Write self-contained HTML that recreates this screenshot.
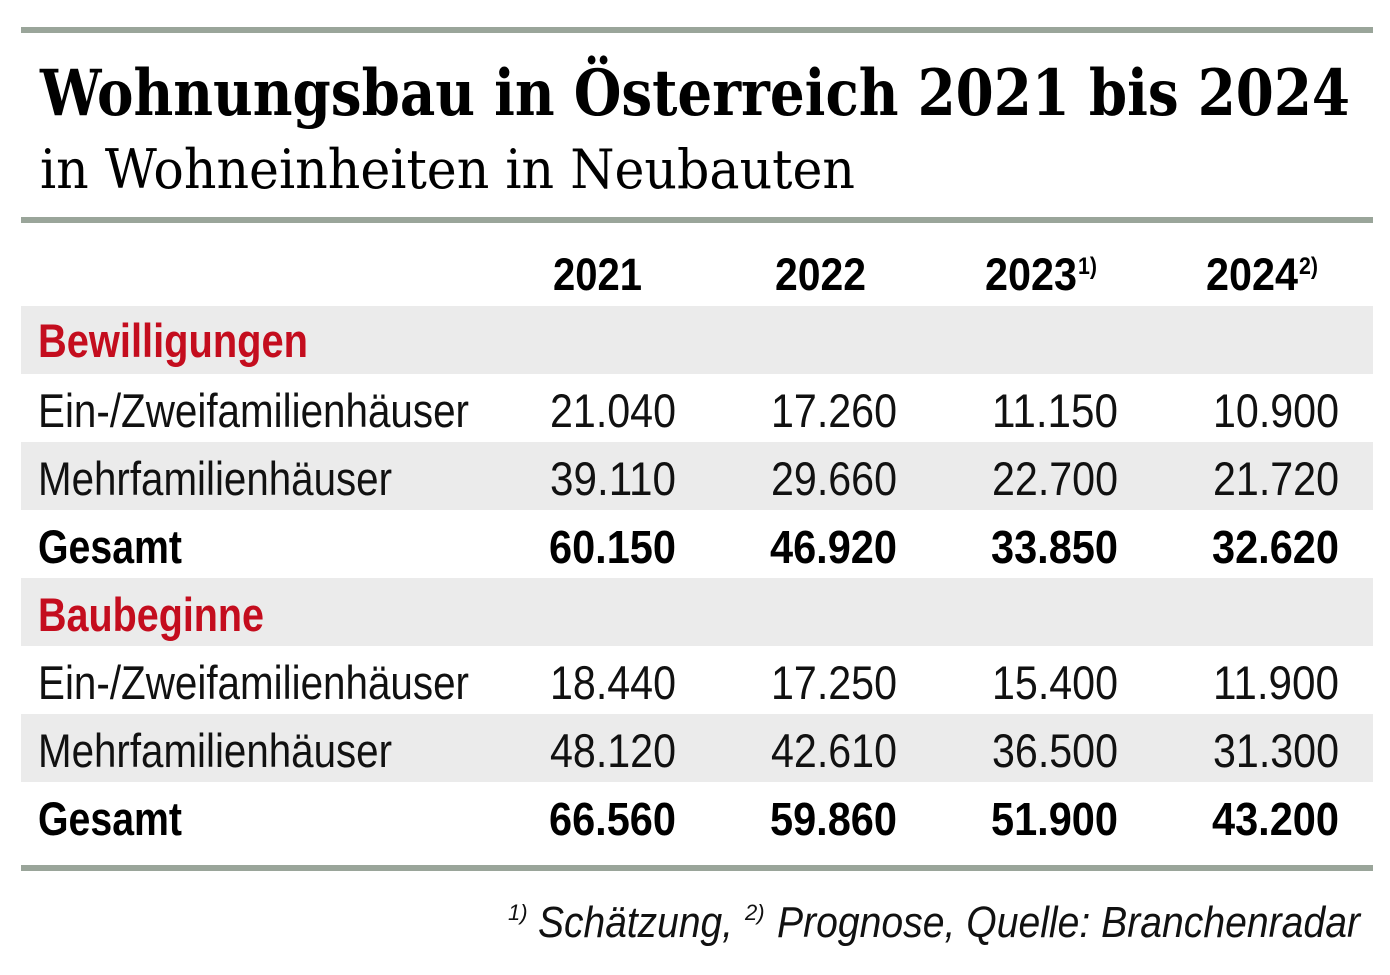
<!DOCTYPE html>
<html><head><meta charset="utf-8"><style>
html,body{margin:0;padding:0;background:#fff;}
svg{display:block}
.c{font-family:"Liberation Sans",sans-serif;}
</style></head><body>
<svg width="1390" height="975" xmlns="http://www.w3.org/2000/svg">
<rect x="21" y="27" width="1352" height="6" fill="#9aa59a"/>
<rect x="21" y="217" width="1352" height="6" fill="#9aa59a"/>
<rect x="21" y="865" width="1352" height="6" fill="#9aa59a"/>
<rect x="21" y="306" width="1352" height="68" fill="#ebebeb"/>
<rect x="21" y="442" width="1352" height="68" fill="#ebebeb"/>
<rect x="21" y="578" width="1352" height="68" fill="#ebebeb"/>
<rect x="21" y="714" width="1352" height="68" fill="#ebebeb"/>
<text x="40" y="115" font-family="DejaVu Serif,serif" font-weight="bold" font-size="64" textLength="1310" lengthAdjust="spacingAndGlyphs">Wohnungsbau in Österreich 2021 bis 2024</text>
<text x="40" y="188" font-family="DejaVu Serif,serif" font-size="54" textLength="815" lengthAdjust="spacingAndGlyphs">in Wohneinheiten in Neubauten</text>
<g class="c" font-weight="bold" font-size="45">
<text x="553" y="290" textLength="89" lengthAdjust="spacingAndGlyphs">2021</text>
<text x="775" y="290" textLength="91" lengthAdjust="spacingAndGlyphs">2022</text>
<text x="985" y="290" textLength="92" lengthAdjust="spacingAndGlyphs">2023</text>
<text x="1206" y="290" textLength="92" lengthAdjust="spacingAndGlyphs">2024</text>
<text x="1078" y="274" font-size="24" textLength="19" lengthAdjust="spacingAndGlyphs">1)</text>
<text x="1299" y="274" font-size="24" textLength="19" lengthAdjust="spacingAndGlyphs">2)</text>
<text x="38" y="357" fill="#c40d1e" font-size="47" textLength="270" lengthAdjust="spacingAndGlyphs">Bewilligungen</text>
<text x="38" y="631" fill="#c40d1e" font-size="47" textLength="226" lengthAdjust="spacingAndGlyphs">Baubeginne</text>
</g>
<g class="c" font-size="47" fill="#111">
<text x="38" y="427" textLength="431" lengthAdjust="spacingAndGlyphs">Ein-/Zweifamilienhäuser</text>
<text x="38" y="495" textLength="354" lengthAdjust="spacingAndGlyphs">Mehrfamilienhäuser</text>
<text x="38" y="699" textLength="431" lengthAdjust="spacingAndGlyphs">Ein-/Zweifamilienhäuser</text>
<text x="38" y="767" textLength="354" lengthAdjust="spacingAndGlyphs">Mehrfamilienhäuser</text>
<g text-anchor="end" lengthAdjust="spacingAndGlyphs">
<text x="676" y="427" textLength="126" lengthAdjust="spacingAndGlyphs">21.040</text><text x="897" y="427" textLength="126" lengthAdjust="spacingAndGlyphs">17.260</text><text x="1118" y="427" textLength="126" lengthAdjust="spacingAndGlyphs">11.150</text><text x="1339" y="427" textLength="126" lengthAdjust="spacingAndGlyphs">10.900</text>
<text x="676" y="495" textLength="126" lengthAdjust="spacingAndGlyphs">39.110</text><text x="897" y="495" textLength="126" lengthAdjust="spacingAndGlyphs">29.660</text><text x="1118" y="495" textLength="126" lengthAdjust="spacingAndGlyphs">22.700</text><text x="1339" y="495" textLength="126" lengthAdjust="spacingAndGlyphs">21.720</text>
<text x="676" y="699" textLength="126" lengthAdjust="spacingAndGlyphs">18.440</text><text x="897" y="699" textLength="126" lengthAdjust="spacingAndGlyphs">17.250</text><text x="1118" y="699" textLength="126" lengthAdjust="spacingAndGlyphs">15.400</text><text x="1339" y="699" textLength="126" lengthAdjust="spacingAndGlyphs">11.900</text>
<text x="676" y="767" textLength="126" lengthAdjust="spacingAndGlyphs">48.120</text><text x="897" y="767" textLength="126" lengthAdjust="spacingAndGlyphs">42.610</text><text x="1118" y="767" textLength="126" lengthAdjust="spacingAndGlyphs">36.500</text><text x="1339" y="767" textLength="126" lengthAdjust="spacingAndGlyphs">31.300</text>
</g>
</g>
<g class="c" font-size="47" font-weight="bold" fill="#000">
<text x="38" y="563" textLength="144" lengthAdjust="spacingAndGlyphs">Gesamt</text>
<text x="38" y="835" textLength="144" lengthAdjust="spacingAndGlyphs">Gesamt</text>
<g text-anchor="end" font-size="46">
<text x="676" y="563" textLength="127" lengthAdjust="spacingAndGlyphs">60.150</text><text x="897" y="563" textLength="127" lengthAdjust="spacingAndGlyphs">46.920</text><text x="1118" y="563" textLength="127" lengthAdjust="spacingAndGlyphs">33.850</text><text x="1339" y="563" textLength="127" lengthAdjust="spacingAndGlyphs">32.620</text>
<text x="676" y="835" textLength="127" lengthAdjust="spacingAndGlyphs">66.560</text><text x="897" y="835" textLength="127" lengthAdjust="spacingAndGlyphs">59.860</text><text x="1118" y="835" textLength="127" lengthAdjust="spacingAndGlyphs">51.900</text><text x="1339" y="835" textLength="127" lengthAdjust="spacingAndGlyphs">43.200</text>
</g>
</g>
<g class="c" font-style="italic" fill="#111">
<text x="508" y="920" font-size="22">1)</text>
<text x="538" y="937" font-size="44" textLength="195" lengthAdjust="spacingAndGlyphs">Schätzung,</text>
<text x="745" y="920" font-size="22">2)</text>
<text x="777" y="937" font-size="44" textLength="583" lengthAdjust="spacingAndGlyphs">Prognose, Quelle: Branchenradar</text>
</g>
</svg>
</body></html>
